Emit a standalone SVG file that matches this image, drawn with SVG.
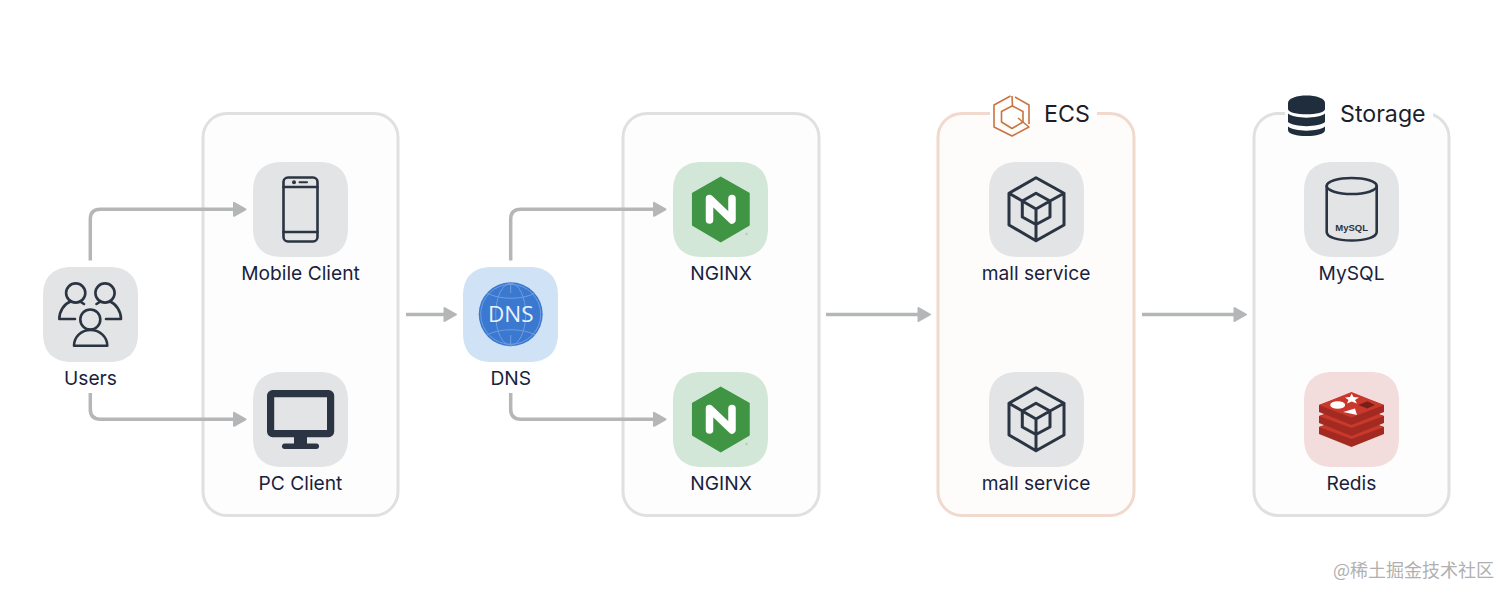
<svg xmlns="http://www.w3.org/2000/svg" width="1512" height="599" viewBox="0 0 1512 599">
<style>
.group{fill:#fdfdfd;stroke:#dfe0e0;stroke-width:3}
.edge{fill:none;stroke:#b4b6b7;stroke-width:3.5}
.label{font-family:Inter,"Liberation Sans",sans-serif;font-size:19.2px;fill:#1a1f3d;text-anchor:middle}
.title{font-family:Inter,"Liberation Sans",sans-serif;font-size:23.2px;fill:#1c1f2a}
.ink{fill:none;stroke:#2b3442;stroke-linejoin:round;stroke-linecap:round}
.tile-gray{fill:#e2e4e5}
.hex{fill:#3f9543}
</style>
<defs>
<path id="tile" d="M29 0H66C85 0 95 10 95 29V66C95 85 85 95 66 95H29C10 95 0 85 0 66V29C0 10 10 0 29 0Z"/>
<marker id="arrow" markerUnits="userSpaceOnUse" markerWidth="20" markerHeight="20" refX="2" refY="10" orient="auto">
<path d="M2 3.500L13.500 10L2 16.500Z" fill="#b4b6b7" stroke="#b4b6b7" stroke-width="2" stroke-linejoin="round"/>
</marker>
<g id="nginx-icon">
<use href="#tile" fill="#d2e7d7"/>
<path class="hex" d="M47.700 15.300L76 31.300V63L47.700 79.700L19.700 63V31.300Z" stroke="#3f9543" stroke-width="1.500" stroke-linejoin="round"/>
<path d="M36.500 58V36.500L59 58V36.500" fill="none" stroke="#fff" stroke-width="7.500" stroke-linecap="round" stroke-linejoin="round"/>
<circle cx="73.500" cy="72" r="1.200" fill="#b6c9ba"/>
</g>
<g id="cube-icon">
<use href="#tile" class="tile-gray"/>
<path class="ink" stroke-width="3" d="M47 15.700L75 31.300V63L47 78.700L20 63V31.300ZM47 31.300L61 39V55L47 62.500L33.300 55V39ZM33.300 39L47 47L61 39M47 47V78.700M20 31.300L33.300 39M75 31.300L61 39"/>
</g>
</defs>
<rect width="1512" height="599" fill="#fff"/>

<g id="group-clients"><rect class="group" x="203" y="113.500" width="195" height="402" rx="24"/></g>
<g id="group-nginx"><rect class="group" x="623" y="113.500" width="196" height="402" rx="24"/></g>
<g id="group-ecs">
<rect x="938" y="113.500" width="196" height="402" rx="24" fill="#fefcfb" stroke="#f1d9cd" stroke-width="3"/>
<rect x="990" y="108" width="107" height="12" fill="#fff"/>
<g fill="none" stroke="#c9743f" stroke-width="1.600" stroke-linejoin="round">
<path d="M1010.500 96L994 105V127L1012 136L1029 127L1018 118"/>
<path d="M1012 96L1012.500 106L1023 111.500V122L1012 128.500L1001.500 122V111.500L1012 106"/>
<path d="M1015 97L1029 105V124"/>
</g>
<text class="title" x="1044" y="121.500">ECS</text>
</g>
<g id="group-storage">
<rect class="group" x="1254" y="113.500" width="195" height="402" rx="24"/>
<rect x="1285" y="108" width="148" height="12" fill="#fff"/>
<path d="M1288 103C1288 93 1325 93 1325 103V109C1325 116 1288 116 1288 109Z" fill="#1f2d3d"/>
<path d="M1288 113.500C1294 119 1319 119 1325 113.500V122C1319 127.500 1294 127.500 1288 122Z" fill="#1f2d3d"/>
<path d="M1288 126.500C1294 132 1319 132 1325 126.500V130C1325 138 1288 138 1288 130Z" fill="#1f2d3d"/>
<text class="title" x="1340" y="121.500">Storage</text>
</g>

<g id="connectors">
<path class="edge" marker-end="url(#arrow)" d="M90.300 260.500V219.300Q90.300 209.300 100.300 209.300H234"/>
<path class="edge" marker-end="url(#arrow)" d="M90.300 393V409.300Q90.300 419.300 100.300 419.300H234"/>
<path class="edge" marker-end="url(#arrow)" d="M406 314.500H444.500"/>
<path class="edge" marker-end="url(#arrow)" d="M510.700 260.500V219.300Q510.700 209.300 520.700 209.300H654"/>
<path class="edge" marker-end="url(#arrow)" d="M510.700 393V409.300Q510.700 419.300 520.700 419.300H654"/>
<path class="edge" marker-end="url(#arrow)" d="M826 314.500H918.500"/>
<path class="edge" marker-end="url(#arrow)" d="M1142 314.500H1234.500"/>
</g>

<g id="node-users" transform="translate(43 267)">
<use href="#tile" class="tile-gray"/>
<g class="ink" stroke-width="2.600">
<circle cx="32.700" cy="26" r="9.600"/>
<circle cx="62" cy="26" r="9.600"/>
<circle cx="47.300" cy="52.500" r="10"/>
<path d="M31 78.700H64.300C64.300 70 57 63 47.600 63C38 63 31 70 31 78.700Z"/>
<path d="M32 52H16.300C16.300 44 21 37 27.500 34.500M37 34.500L41 37"/>
<path d="M63 52H78C78 44 73 37 67 34.500M57.500 34.500L53.500 37"/>
</g>
<text class="label" x="47.500" y="117.500">Users</text>
</g>

<g id="node-mobile" transform="translate(253 162)">
<use href="#tile" class="tile-gray"/>
<rect class="ink" stroke-width="2.600" x="30.500" y="15.500" width="34" height="64" rx="4.500"/>
<path class="ink" stroke-width="2.600" d="M30.500 25H64.500M30.500 70H64.500"/>
<circle cx="41" cy="20.300" r="2" fill="#2b3442"/>
<path class="ink" stroke-width="2" d="M46.500 20.300H54"/>
<text class="label" x="47.500" y="118.200">Mobile Client</text>
</g>

<g id="node-pc" transform="translate(253 372)">
<use href="#tile" class="tile-gray"/>
<rect x="17.600" y="21.600" width="60" height="40" rx="2" fill="none" stroke="#2b3442" stroke-width="7.200"/>
<path d="M41 64H54V72H41Z" fill="#2b3442"/>
<rect x="29" y="71.500" width="37" height="5.500" rx="2.700" fill="#2b3442"/>
<text class="label" x="47.500" y="118">PC Client</text>
</g>

<g id="node-dns" transform="translate(463 267)">
<use href="#tile" fill="#d0e2f5"/>
<circle cx="47.700" cy="47.300" r="32" fill="#3b78d0"/>
<g fill="none" stroke="#6f9de0" stroke-width="1">
<circle cx="47.700" cy="47.300" r="30"/>
<ellipse cx="47.700" cy="47.300" rx="15" ry="31"/>
<path d="M24 26C36 33 60 33 72 26M24 68C36 61 60 61 72 68M47.700 16V26M47.700 68V78"/>
</g>
<text x="47.700" y="55" font-family="'Open Sans','Noto Sans',sans-serif" font-size="22.500" fill="#e8f1fc" text-anchor="middle">DNS</text>
<text class="label" x="47.700" y="117.500">DNS</text>
</g>

<g id="node-nginx-1" transform="translate(673 162)">
<use href="#nginx-icon"/>
<text class="label" x="48" y="118.200">NGINX</text>
</g>
<g id="node-nginx-2" transform="translate(673 372)">
<use href="#nginx-icon"/>
<text class="label" x="48" y="118">NGINX</text>
</g>

<g id="node-mall-1" transform="translate(989 162)">
<use href="#cube-icon"/>
<text class="label" x="47" y="118.200">mall service</text>
</g>
<g id="node-mall-2" transform="translate(989 372)">
<use href="#cube-icon"/>
<text class="label" x="47" y="118">mall service</text>
</g>

<g id="node-mysql" transform="translate(1304 162)">
<use href="#tile" class="tile-gray"/>
<g class="ink" stroke-width="2.600">
<ellipse cx="47.700" cy="24" rx="25" ry="8"/>
<path d="M22.700 24V70C22.700 75 33 78.500 47.700 78.500C62 78.500 72.700 75 72.700 70V24"/>
</g>
<text x="47.700" y="69" font-family="'Liberation Sans',Arial,sans-serif" font-size="9.500" font-weight="700" fill="#2b3442" text-anchor="middle">MySQL</text>
<text class="label" x="47.500" y="118.200">MySQL</text>
</g>

<g id="node-redis" transform="translate(1304 372)">
<use href="#tile" fill="#f3dcdc"/>
<g stroke-linejoin="round">
<path d="M15 55L47.500 43L80 55V62L47.500 75L15 62Z" fill="#a32a20"/>
<path d="M15 55L47.500 67L80 55L47.500 44Z" fill="#c9382c"/>
<path d="M15 44L47.500 32L80 44V51L47.500 64L15 51Z" fill="#a32a20"/>
<path d="M15 44L47.500 56L80 44L47.500 33Z" fill="#c9382c"/>
<path d="M15 33L47.500 21L80 33V40L47.500 53L15 40Z" fill="#a32a20"/>
<path d="M15 33L47.500 20L80 33L47.500 45.500Z" fill="#c9382c"/>
</g>
<ellipse cx="33.700" cy="33" rx="7.500" ry="3.800" fill="#fff"/>
<path d="M47.700 21.500L49.500 25L55 25.500L51 28L53 31.500L47.700 29.500L43 31.500L44.500 28L41 25.500L46 25Z" fill="#fff"/>
<path d="M39.300 40L51 36.500L53 43Z" fill="#fff"/>
<path d="M54.300 33L63.300 29.300L71 33L63.300 36.500Z" fill="#7a1f18"/>
<text class="label" x="47.500" y="118">Redis</text>
</g>

<text x="1333" y="577" font-family="'Noto Sans CJK SC','Noto Sans',sans-serif" font-size="18px" fill="#b0b0b0">@稀土掘金技术社区</text>
</svg>
